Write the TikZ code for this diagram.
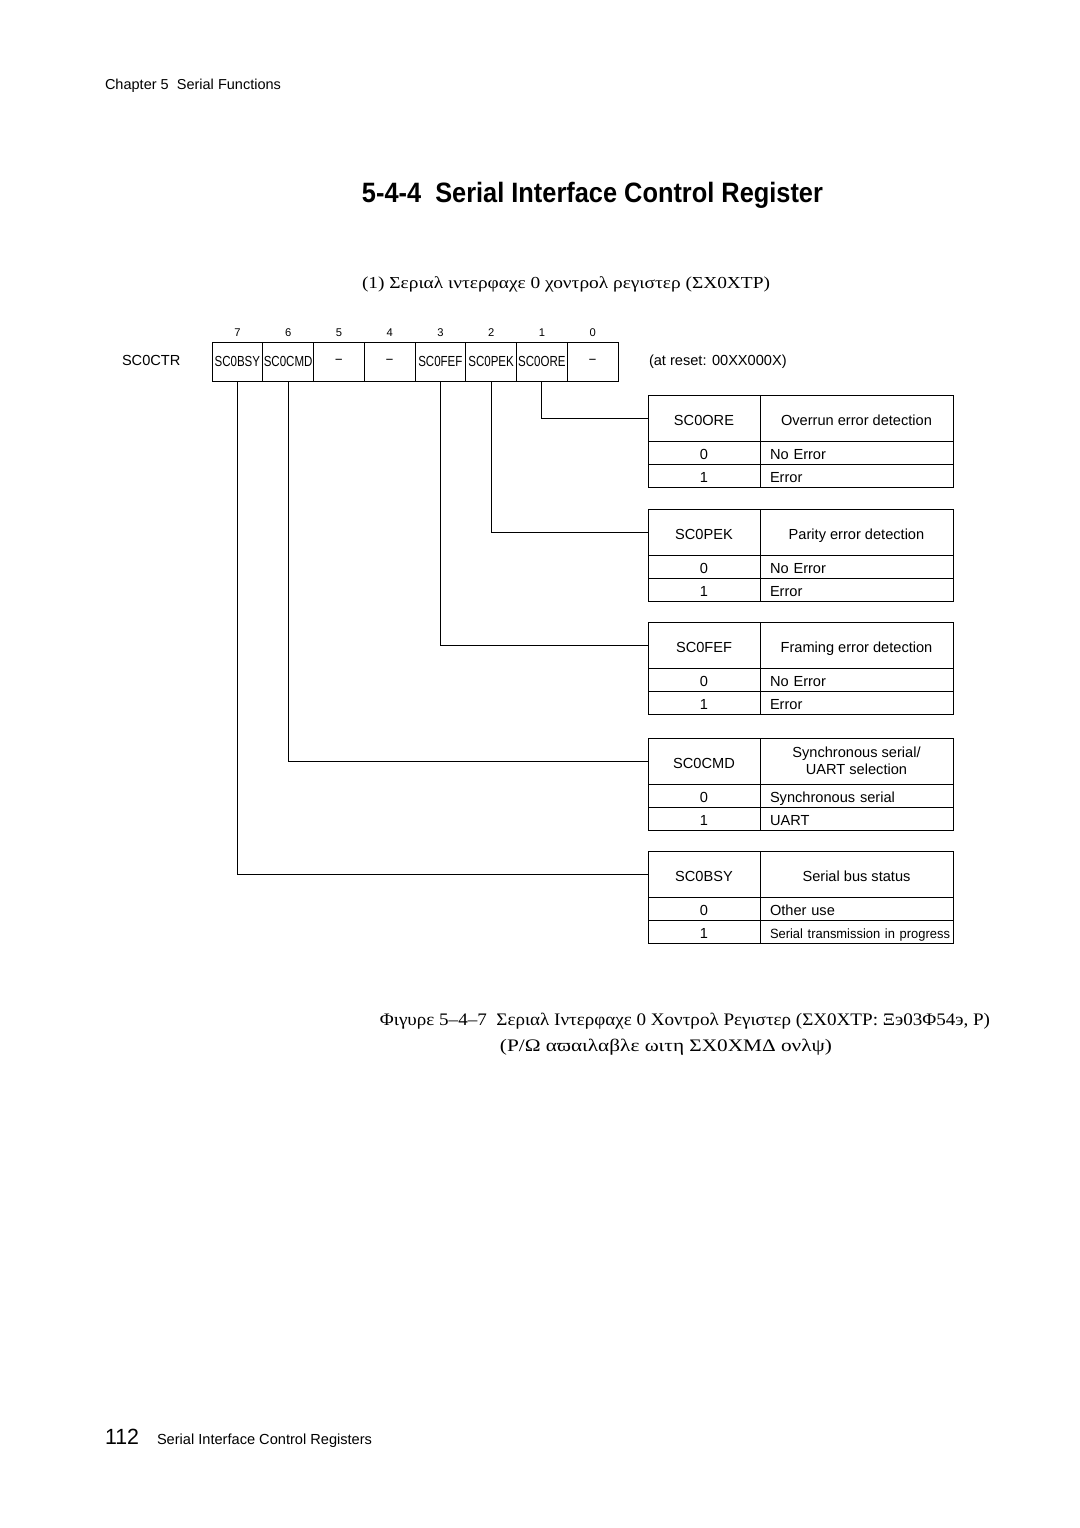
\documentclass[tikz,border=0pt]{standalone}
\usepackage{fontspec}
\setmainfont{Liberation Sans}
\newfontfamily\greekfont[Script=Greek]{Liberation Serif}
\usepackage{graphicx}
\usetikzlibrary{positioning}
\newcommand{\fitwidth}[2]{\resizebox{#1}{\height}{#2}}
\newcommand{\regname}[1]{\scalebox{0.79}[1]{#1}}

\begin{document}
\begin{tikzpicture}[x=0.5pt,y=-0.5pt,line width=0.5pt,
	every node/.style={inner sep=0pt,outer sep=0pt,font=\fontsize{7.3}{8.5}\selectfont},
	celltext/.style={text height=7pt,text depth=0pt},
	regcell/.style={draw,minimum width=25.375pt,minimum height=19.5pt},
	bitnum/.style={anchor=base,font=\fontsize{5.6}{6}\selectfont},
	namecell/.style={draw,celltext,minimum width=56pt,minimum height=23pt},
	desccell/.style={draw,celltext,minimum width=96.5pt,minimum height=23pt,align=center},
	valcell/.style={draw,celltext,minimum width=56pt,minimum height=11.5pt},
	textcell/.style={draw,celltext,minimum width=96.5pt,minimum height=11.5pt,inner xsep=5pt,text width=86.5pt,align=left}]
	\useasboundingbox (0,0) rectangle (1080,1528);

	\node[anchor=base west] (chapter) at (105,89) {\fitwidth{88pt}{\fontsize{7.2}{8}\selectfont Chapter 5\ \ Serial Functions}};
	\node[anchor=base] (title) at (592.5,202) {\fitwidth{230.5pt}{\fontsize{14}{16}\selectfont\bfseries 5-4-4\ \ Serial Interface Control Register}};
	\node[anchor=base] (subtitle) at (566,288) {\fitwidth{204pt}{\greekfont\fontsize{8.4}{10}\selectfont (1) Σεριαλ ιντερφαχε 0 χοντρολ ρεγιστερ (ΣΧ0ΧΤΡ)}};

	\node[anchor=base west] (regname) at (122,365.7) {SC0CTR};
	\node[anchor=base west] (resetval) at (649,365.7) {(at reset: 00XX000X)};
	\foreach \b/\lbl in {7/SC0BSY,6/SC0CMD,5/--,4/--,3/SC0FEF,2/SC0PEK,1/SC0ORE,0/--}{
		\node[regcell] (bit\b) at ({237.375+50.75*(7-\b)},361.5) {\regname{\lbl}};
		\node[bitnum] at ({237.375+50.75*(7-\b)},336) {\b};
	}

	\node[namecell,anchor=north west] (ore) at (648,395) {SC0ORE};
	\node[desccell,right=0pt of ore] (ore-desc) {Overrun error detection};
	\node[valcell,below=0pt of ore] (ore-0) {0};
	\node[textcell,right=0pt of ore-0] (ore-0-text) {No Error};
	\node[valcell,below=0pt of ore-0] (ore-1) {1};
	\node[textcell,right=0pt of ore-1] (ore-1-text) {Error};

	\node[namecell,anchor=north west] (pek) at (648,509) {SC0PEK};
	\node[desccell,right=0pt of pek] (pek-desc) {Parity error detection};
	\node[valcell,below=0pt of pek] (pek-0) {0};
	\node[textcell,right=0pt of pek-0] (pek-0-text) {No Error};
	\node[valcell,below=0pt of pek-0] (pek-1) {1};
	\node[textcell,right=0pt of pek-1] (pek-1-text) {Error};

	\node[namecell,anchor=north west] (fef) at (648,622) {SC0FEF};
	\node[desccell,right=0pt of fef] (fef-desc) {Framing error detection};
	\node[valcell,below=0pt of fef] (fef-0) {0};
	\node[textcell,right=0pt of fef-0] (fef-0-text) {No Error};
	\node[valcell,below=0pt of fef-0] (fef-1) {1};
	\node[textcell,right=0pt of fef-1] (fef-1-text) {Error};

	\node[namecell,anchor=north west] (cmd) at (648,738) {SC0CMD};
	\node[desccell,right=0pt of cmd,text height={},text depth={}] (cmd-desc) {Synchronous serial/\\UART selection};
	\node[valcell,below=0pt of cmd] (cmd-0) {0};
	\node[textcell,right=0pt of cmd-0] (cmd-0-text) {Synchronous serial};
	\node[valcell,below=0pt of cmd-0] (cmd-1) {1};
	\node[textcell,right=0pt of cmd-1] (cmd-1-text) {UART};

	\node[namecell,anchor=north west] (bsy) at (648,851) {SC0BSY};
	\node[desccell,right=0pt of bsy] (bsy-desc) {Serial bus status};
	\node[valcell,below=0pt of bsy] (bsy-0) {0};
	\node[textcell,right=0pt of bsy-0] (bsy-0-text) {Other use};
	\node[valcell,below=0pt of bsy-0] (bsy-1) {1};
	\node[textcell,right=0pt of bsy-1] (bsy-1-text) {\mbox{\fitwidth{90pt}{\fontsize{6.7}{8}\selectfont Serial transmission in progress}}};

	\draw (bit1.south) |- (ore.west);
	\draw (bit2.south) |- (pek.west);
	\draw (bit3.south) |- (fef.west);
	\draw (bit6.south) |- (cmd.west);
	\draw (bit7.south) |- (bsy.west);

	\node[anchor=base] (caption1) at (685,1025) {\fitwidth{305pt}{\greekfont\fontsize{8.8}{10}\selectfont Φιγυρε 5–4–7\ \ Σεριαλ Ιντερφαχε 0 Χοντρολ Ρεγιστερ (ΣΧ0ΧΤΡ: Ξэ03Φ54э, Ρ)}};
	\node[anchor=base] (caption2) at (666,1051) {\fitwidth{166pt}{\greekfont\fontsize{8.8}{10}\selectfont (Ρ/Ω αϖαιλαβλε ωιτη ΣΧ0ΧΜΔ ονλψ)}};

	\node[anchor=base west] (pageno) at (105,1444) {\fitwidth{17pt}{\fontsize{11}{12}\selectfont 112}};
	\node[anchor=base west] (footer) at (157,1444) {Serial Interface Control Registers};
\end{tikzpicture}
\end{document}
